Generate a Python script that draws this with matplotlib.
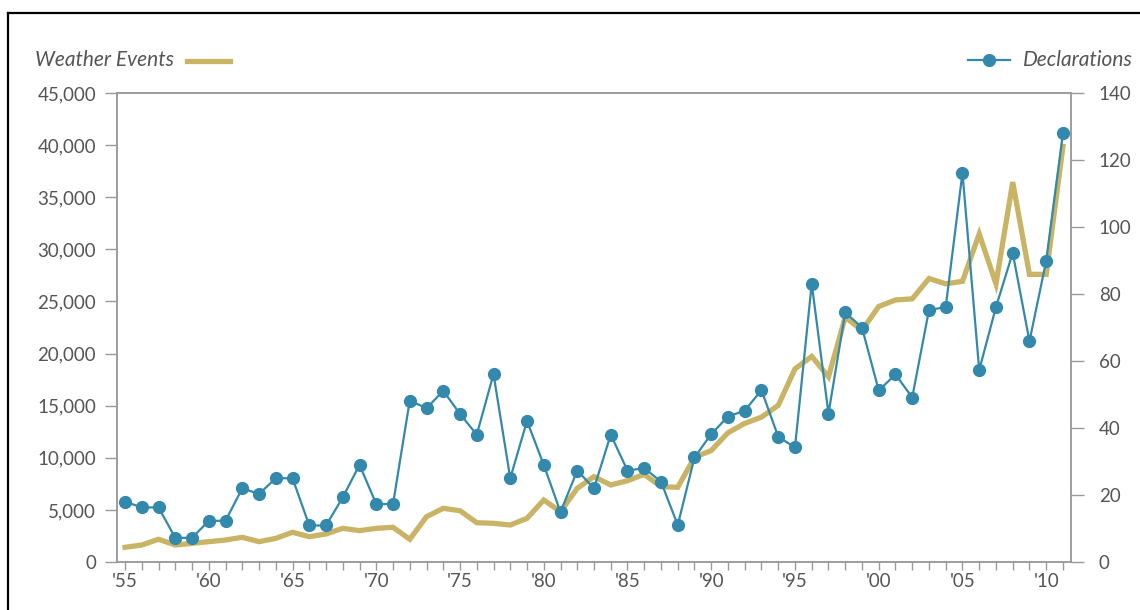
import matplotlib
matplotlib.use("Agg")
import matplotlib.pyplot as plt
from matplotlib.lines import Line2D
from matplotlib.ticker import FuncFormatter, MultipleLocator

plt.rcParams['font.family'] = ['Lato', 'DejaVu Sans']

years = list(range(1955, 2012))

weather_events = [
    1410, 1630, 2180, 1630, 1790, 1950, 2110, 2370, 1950, 2270,
    2850, 2430, 2690, 3230, 3010, 3230, 3330, 2180, 4350, 5150,
    4920, 3770, 3710, 3550, 4190, 5950, 4830, 7070, 8190, 7390,
    7800, 8410, 7230, 7170, 10050, 10700, 12400, 13300, 13900, 15030,
    18530, 19730, 17770, 23500, 22220, 24520, 25140, 25250, 27200, 26690,
    26930, 31480, 26690, 36450, 27600, 27600, 39880,
]

declarations = [
    18, 16.3, 16.3, 7.2, 7.2, 12.3, 12.3, 22, 20.3, 25,
    25, 10.9, 10.9, 19.3, 29, 17.3, 17.3, 48.2, 45.9, 51.1,
    44.2, 38, 56.1, 25, 42.1, 29, 14.9, 27.3, 22, 38,
    27.3, 28, 24, 11, 31.2, 38.2, 43.4, 45.2, 51.3, 37.4,
    34.2, 83.1, 44.3, 74.5, 70, 51.2, 56, 49.1, 75.2, 76.1,
    116.2, 57.3, 76.1, 92.3, 65.9, 89.9, 128,
]

major_years = list(range(1955, 2011, 5))
x_labels = ["'" + str(y)[2:] for y in major_years]
left_ticks = list(range(0, 45001, 5000))
right_ticks = list(range(0, 141, 20))

GOLD = '#c9b466'
BLUE = '#3389ab'
AXIS = '#9a9a9a'
TEXT = '#555555'

W, H = 1140, 610
fig = plt.figure(figsize=(W / 100, H / 100), dpi=100)
fig.patch.set_facecolor('white')

def fx(px):
    return px / W

def fy(py):
    return 1 - py / H

ax = fig.add_axes([fx(117), fy(562), fx(1071) - fx(117), fy(93) - fy(562)])
ax2 = ax.twinx()

ax.plot(years, weather_events, color=GOLD, lw=3.8, solid_joinstyle='miter', zorder=2)
ax2.plot(years, declarations, color=BLUE, lw=1.6, marker='o', markersize=8.5,
         markerfacecolor=BLUE, markeredgecolor=BLUE, zorder=3)

ax.set_xlim(1954.52, 2011.48)
ax.set_ylim(0, 45000)
ax2.set_ylim(0, 140)

ax.set_xticks(major_years)
ax.set_xticklabels(x_labels)
ax.xaxis.set_minor_locator(MultipleLocator(1))
ax.set_yticks(left_ticks)
ax.yaxis.set_major_formatter(FuncFormatter(lambda v, p: f"{int(v):,}"))
ax2.set_yticks(right_ticks)

for a in (ax, ax2):
    for s in a.spines.values():
        s.set_color(AXIS)
        s.set_linewidth(1.1)

ax.tick_params(axis='x', which='both', direction='out', length=6, width=1.0,
               color=AXIS, labelsize=13.5, labelcolor=TEXT, pad=2)
ax.tick_params(axis='y', direction='out', length=9, width=1.0, color=AXIS,
               labelsize=13.5, labelcolor=TEXT, pad=6)
ax2.tick_params(axis='y', direction='out', length=9, width=1.0, color=AXIS,
                labelsize=13.5, labelcolor=TEXT, pad=11)

# Legend (manual, in figure pixels)
fig.text(fx(35), fy(60), 'Weather Events', ha='left', va='center',
         fontsize=15, style='italic', color=TEXT)
fig.add_artist(Line2D([fx(187), fx(230)], [fy(61), fy(61)], color=GOLD,
                      lw=3.8, transform=fig.transFigure))
fig.text(fx(1133), fy(60), 'Declarations', ha='right', va='center',
         fontsize=15, style='italic', color=TEXT)
fig.add_artist(Line2D([fx(968), fx(1010)], [fy(60), fy(60)], color=BLUE,
                      lw=1.6, transform=fig.transFigure))
fig.add_artist(Line2D([fx(989)], [fy(60)], color=BLUE, marker='o',
                      markersize=8.5, transform=fig.transFigure))

# Frame lines (top and left)
fig.add_artist(Line2D([fx(8), fx(1140)], [fy(12.5), fy(12.5)], color='black',
                      lw=1.6, transform=fig.transFigure))
fig.add_artist(Line2D([fx(8), fx(8)], [fy(12.5), fy(610)], color='black',
                      lw=1.6, transform=fig.transFigure))

fig.savefig('out.png', dpi=100, facecolor='white')
